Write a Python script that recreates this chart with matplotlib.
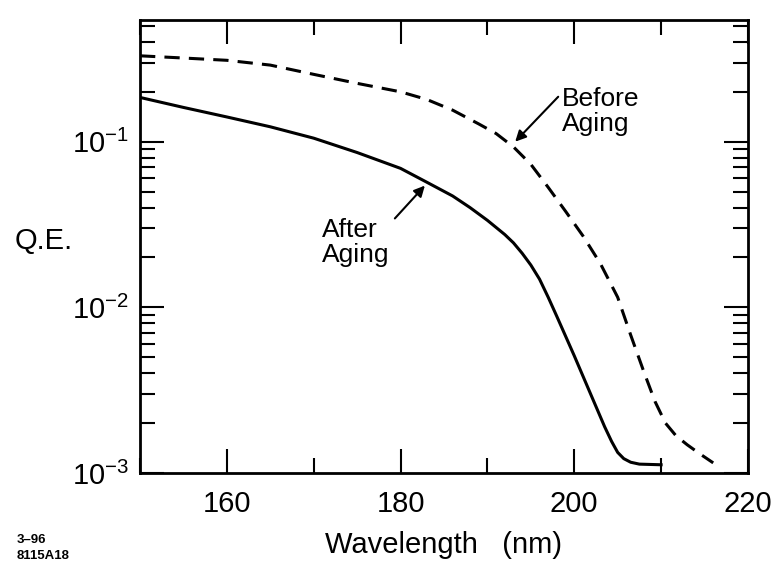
import numpy as np
import matplotlib
matplotlib.use("Agg")
import matplotlib.pyplot as plt
from matplotlib.ticker import LogLocator, MultipleLocator, NullFormatter

# data
x_after = [150, 155, 160, 165, 170, 175, 180, 183, 186, 188, 190, 192, 193,
           194, 195, 196, 197, 198, 199, 200, 202, 203.5, 204.3, 205, 205.7,
           206.5, 207.5, 210]
qe_after = [0.185, 0.161, 0.141, 0.123, 0.105, 0.086, 0.069, 0.057, 0.047,
            0.040, 0.0335, 0.0275, 0.0245, 0.0212, 0.0180, 0.0148, 0.0115,
            0.0088, 0.0067, 0.0051, 0.0029, 0.0019, 0.00155, 0.00133,
            0.00122, 0.00116, 0.00113, 0.00112]

x_before = [150, 155, 160, 165, 170, 175, 180, 183, 186, 189, 191, 193, 195,
            197, 199, 201, 203, 205, 206.5, 208, 209.3, 210.5, 211.7, 213,
            214.5, 216]
qe_before = [0.33, 0.32, 0.31, 0.29, 0.255, 0.225, 0.2, 0.18, 0.155, 0.128,
             0.112, 0.093, 0.073, 0.053, 0.038, 0.027, 0.0184, 0.0115, 0.0068,
             0.0041, 0.0027, 0.0020, 0.00168, 0.00148, 0.0013, 0.00115]

x_ticks = [160, 180, 200, 220]

plt.rcParams['font.family'] = ['Liberation Sans', 'DejaVu Sans']
plt.rcParams['mathtext.fontset'] = 'custom'
plt.rcParams['mathtext.rm'] = 'Liberation Sans'
plt.rcParams['mathtext.it'] = 'Liberation Sans:italic'
plt.rcParams['mathtext.bf'] = 'Liberation Sans:bold'

fig = plt.figure(figsize=(7.84, 5.63), dpi=100)
ax = fig.add_axes([0.1786, 0.160, 0.7754, 0.8045])

ax.plot(x_after, qe_after, color='black', lw=2.2, solid_joinstyle='round')
ax.plot(x_before, qe_before, color='black', lw=2.2, linestyle=(0, (5, 3)))

ax.set_yscale('log')
ax.set_xlim(150, 220)
ax.set_ylim(1e-3, 0.543)

ax.set_xticks(x_ticks)
ax.xaxis.set_minor_locator(MultipleLocator(10))
ax.yaxis.set_major_locator(LogLocator(base=10))
ax.yaxis.set_minor_locator(LogLocator(base=10, subs=np.arange(2, 10)))
ax.yaxis.set_minor_formatter(NullFormatter())

ax.tick_params(which='both', direction='in', top=True, right=True,
               width=1.5, labelsize=21)
ax.tick_params(which='major', length=17)
ax.tick_params(which='minor', length=11)
ax.tick_params(axis='x', which='major', pad=12)
ax.tick_params(axis='y', which='major', pad=8)

for sp in ax.spines.values():
    sp.set_linewidth(2)

ax.set_xlabel('Wavelength   (nm)', fontsize=21, labelpad=10)
fig.text(15 / 784, 1 - 241 / 563, 'Q.E.', fontsize=21, ha='left', va='center')

# annotations
ax.annotate('Before\nAging', xy=(193.2, 0.1), xytext=(198.6, 0.214),
            fontsize=19, ha='left', va='top', linespacing=1.05,
            arrowprops=dict(arrowstyle='-|>', color='black', lw=1.5,
                            shrinkA=0, shrinkB=0, mutation_scale=16,
                            relpos=(-0.05, 0.8)))
ax.annotate('After\nAging', xy=(182.8, 0.0543), xytext=(170.95, 0.0344),
            fontsize=19, ha='left', va='top', linespacing=1.05,
            arrowprops=dict(arrowstyle='-|>', color='black', lw=1.5,
                            shrinkA=0, shrinkB=0, mutation_scale=16,
                            relpos=(1.08, 1.0)))

fig.text(17 / 784, 1 - 543 / 563, '3\u201396', fontsize=9.5,
         fontweight='bold', va='baseline')
fig.text(17 / 784, 1 - 559 / 563, '8115A18', fontsize=9.5,
         fontweight='bold', va='baseline')

fig.savefig('out.png', dpi=100)
